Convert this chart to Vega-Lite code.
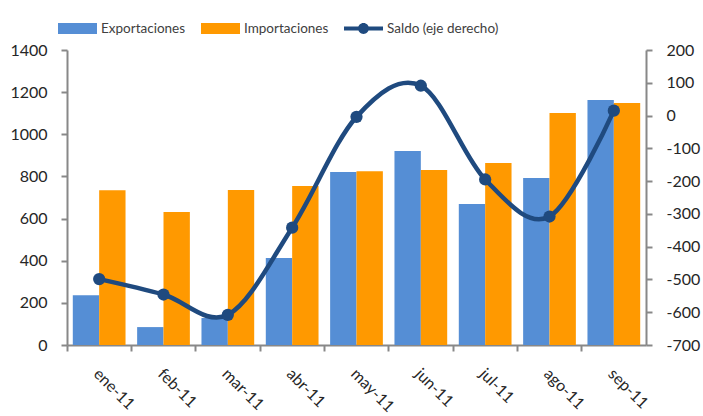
{
  "$schema": "https://vega.github.io/schema/vega-lite/v6.json",
  "width": 579,
  "height": 295,
  "autosize": {"type": "none"},
  "padding": {"left": 67, "top": 50, "right": 57, "bottom": 71},
  "background": "white",
  "config": {
    "view": {"stroke": null},
    "font": "Lato",
    "axis": {
      "domainColor": "#888888",
      "tickColor": "#888888",
      "labelColor": "#262626",
      "labelFontSize": 16,
      "domainWidth": 2,
      "tickWidth": 2,
      "tickSize": 6,
      "grid": false,
      "title": null
    }
  },
  "datasets": {
    "comercio": [
      {"mes": "ene-11", "serie": "Exportaciones", "valor": 236},
      {"mes": "ene-11", "serie": "Importaciones", "valor": 735},
      {"mes": "feb-11", "serie": "Exportaciones", "valor": 85},
      {"mes": "feb-11", "serie": "Importaciones", "valor": 631},
      {"mes": "mar-11", "serie": "Exportaciones", "valor": 128},
      {"mes": "mar-11", "serie": "Importaciones", "valor": 736},
      {"mes": "abr-11", "serie": "Exportaciones", "valor": 413},
      {"mes": "abr-11", "serie": "Importaciones", "valor": 755},
      {"mes": "may-11", "serie": "Exportaciones", "valor": 821},
      {"mes": "may-11", "serie": "Importaciones", "valor": 825},
      {"mes": "jun-11", "serie": "Exportaciones", "valor": 921},
      {"mes": "jun-11", "serie": "Importaciones", "valor": 830},
      {"mes": "jul-11", "serie": "Exportaciones", "valor": 669},
      {"mes": "jul-11", "serie": "Importaciones", "valor": 864},
      {"mes": "ago-11", "serie": "Exportaciones", "valor": 793},
      {"mes": "ago-11", "serie": "Importaciones", "valor": 1101},
      {"mes": "sep-11", "serie": "Exportaciones", "valor": 1163},
      {"mes": "sep-11", "serie": "Importaciones", "valor": 1148}
    ],
    "saldo": [
      {"mes": "ene-11", "serie": "Saldo (eje derecho)", "saldo": -499},
      {"mes": "feb-11", "serie": "Saldo (eje derecho)", "saldo": -546},
      {"mes": "mar-11", "serie": "Saldo (eje derecho)", "saldo": -608},
      {"mes": "abr-11", "serie": "Saldo (eje derecho)", "saldo": -342},
      {"mes": "may-11", "serie": "Saldo (eje derecho)", "saldo": -4},
      {"mes": "jun-11", "serie": "Saldo (eje derecho)", "saldo": 91},
      {"mes": "jul-11", "serie": "Saldo (eje derecho)", "saldo": -195},
      {"mes": "ago-11", "serie": "Saldo (eje derecho)", "saldo": -308},
      {"mes": "sep-11", "serie": "Saldo (eje derecho)", "saldo": 15}
    ]
  },
  "layer": [
    {
      "data": {"name": "comercio"},
      "mark": {"type": "bar"},
      "encoding": {
        "x": {
          "field": "mes",
          "type": "nominal",
          "sort": ["ene-11", "feb-11", "mar-11", "abr-11", "may-11", "jun-11", "jul-11", "ago-11", "sep-11"],
          "scale": {"paddingInner": 0, "paddingOuter": 0},
          "axis": {"labelAngle": 45, "labelAlign": "left", "labelBaseline": "middle", "labelPadding": 20, "bandPosition": 0, "labelOffset": -3}
        },
        "xOffset": {"field": "serie", "type": "nominal", "scale": {"paddingOuter": 0.22, "paddingInner": 0}},
        "y": {
          "field": "valor",
          "type": "quantitative",
          "scale": {"domain": [0, 1400], "nice": false},
          "axis": {"orient": "left", "values": [0, 200, 400, 600, 800, 1000, 1200, 1400], "labelPadding": 14, "labelExpr": "'' + datum.value"}
        },
        "color": {
          "field": "serie",
          "type": "nominal",
          "scale": {
            "domain": ["Exportaciones", "Importaciones", "Saldo (eje derecho)"],
            "range": ["#558ED5", "#FF9900", "#1F4A7F"]
          },
          "legend": {
            "orient": "none",
            "direction": "horizontal",
            "legendX": -9,
            "legendY": -41,
            "title": null,
            "symbolSize": 1521,
            "labelFontSize": 13.5,
            "labelColor": "#404040",
            "labelOffset": 4,
            "columnPadding": 15,
            "encode": {
              "symbols": {
                "update": {
                  "shape": {"signal": "datum.value === 'Saldo (eje derecho)' ? 'M-1,-0.1H1V0.1H-1Z M0.28,0A0.28,0.28 0 1 1 -0.28,0A0.28,0.28 0 1 1 0.28,0Z' : 'M-1,-0.28H1V0.28H-1Z'"},
                  "fill": {"scale": "color", "field": "value"},
                  "strokeWidth": {"value": 0},
                  "opacity": {"value": 1}
                }
              }
            }
          }
        }
      }
    },
    {
      "data": {"name": "saldo"},
      "mark": {"type": "line", "interpolate": "cardinal", "tension": 0, "strokeWidth": 4.5, "point": {"filled": true, "size": 150, "opacity": 1}},
      "encoding": {
        "x": {"field": "mes", "type": "nominal", "sort": ["ene-11", "feb-11", "mar-11", "abr-11", "may-11", "jun-11", "jul-11", "ago-11", "sep-11"]},
        "y": {
          "field": "saldo",
          "type": "quantitative",
          "scale": {"domain": [-700, 200], "nice": false},
          "axis": {"orient": "right", "values": [-700, -600, -500, -400, -300, -200, -100, 0, 100, 200], "labelPadding": 14, "labelExpr": "'' + datum.value"}
        },
        "color": {"field": "serie", "type": "nominal"}
      }
    }
  ],
  "resolve": {"scale": {"y": "independent"}}
}
